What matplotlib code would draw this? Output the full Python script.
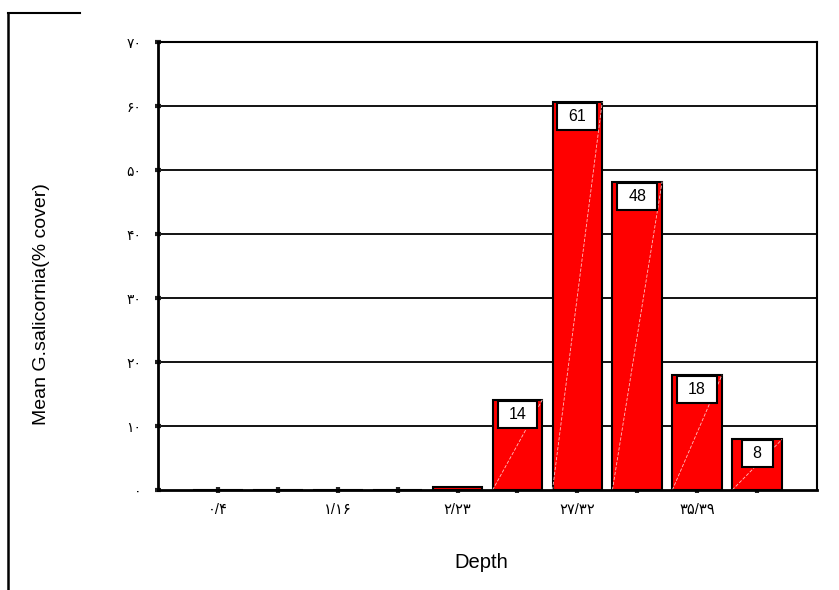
import matplotlib
matplotlib.use("Agg")
import matplotlib.pyplot as plt
from matplotlib.path import Path
from matplotlib.lines import Line2D

# ---- data ----
categories = ["۰/۴", "", "۱/۱۶", "", "۲/۲۳", "", "۲۷/۳۲", "", "۳۵/۳۹", ""]
values = [0, 0, 0, 0, 0.5, 14.1, 60.6, 48.2, 18.0, 7.9]
labelled = [False, False, False, False, False, True, True, True, True, True]
yticks = [0, 10, 20, 30, 40, 50, 60, 70]
ytick_labels = ["۰", "۱۰", "۲۰", "۳۰", "۴۰", "۵۰", "۶۰", "۷۰"]
xlabel = "Depth"
ylabel = "Mean G.salicornia(% cover)"

FONT = ["Liberation Sans", "DejaVu Sans"]
plt.rcParams["font.family"] = FONT

W, H = 839, 590
fig = plt.figure(figsize=(W / 100, H / 100), dpi=100)
ax = fig.add_axes([158 / W, 1 - 490 / H, (817 - 158) / W, (490 - 42) / H])

x = list(range(len(values)))
ax.set_xlim(-1, 10)
ax.set_ylim(0, 70)

# grid
for t in yticks[1:]:
    ax.axhline(t, color="black", lw=1.3, zorder=1)

bars = ax.bar(x, values, width=0.83, color="#ff0000", edgecolor="black",
              linewidth=1.5, zorder=2)

# faint diagonal in each bar
for b in bars:
    if b.get_height() > 1:
        x0, y0 = b.get_x(), b.get_y()
        ax.plot([x0, x0 + b.get_width()], [y0, y0 + b.get_height()],
                color="#ffc0c0", lw=0.6, ls=(0, (4, 2)), zorder=2.5)


def label_box(x0, y0, width, height, mutation_size):
    hp, vp = 11, 6
    xa, ya = x0 - hp, y0 - vp
    xb, yb = x0 + width + hp, y0 + height + vp
    return Path([(xa, ya), (xb, ya), (xb, yb), (xa, yb), (xa, ya)],
                closed=True)


for xi, v, lab in zip(x, values, labelled):
    if lab:
        ax.annotate(f"{round(v)}", xy=(xi, v), xytext=(0, -7),
                    textcoords="offset pixels", ha="center", va="top",
                    fontsize=11.5, family=FONT, zorder=4,
                    bbox=dict(boxstyle=label_box, fc="white", ec="black",
                              lw=1.5))

for side in ["left", "bottom"]:
    ax.spines[side].set_linewidth(2)
for side in ["top", "right"]:
    ax.spines[side].set_linewidth(1.5)
for s in ax.spines.values():
    s.set_zorder(5)

ax.set_yticks(yticks)
ax.set_yticklabels(ytick_labels, family=FONT, fontsize=10)
ax.set_xticks(x)
ax.set_xticklabels(categories, family=FONT, fontsize=10.5)
ax.tick_params(axis="both", direction="inout", length=4, width=3,
               color="#222222")
ax.tick_params(axis="y", pad=10)
ax.tick_params(axis="x", pad=7)

ax.set_xlabel(xlabel, fontsize=14.5, family=FONT, labelpad=26)
ax.set_ylabel(ylabel, fontsize=14, family=FONT, labelpad=55)
ax.xaxis.label.set_position((0.49, 0))
ax.yaxis.label.set_position((0, 0.415))

# partial outer frame
fig.add_artist(Line2D([8 / W, 8 / W], [0, 1 - 13 / H], color="black",
                      lw=1.8, transform=fig.transFigure))
fig.add_artist(Line2D([8 / W, 80 / W], [1 - 13 / H, 1 - 13 / H],
                      color="black", lw=1.5, transform=fig.transFigure))

fig.savefig("out.png", dpi=100)
